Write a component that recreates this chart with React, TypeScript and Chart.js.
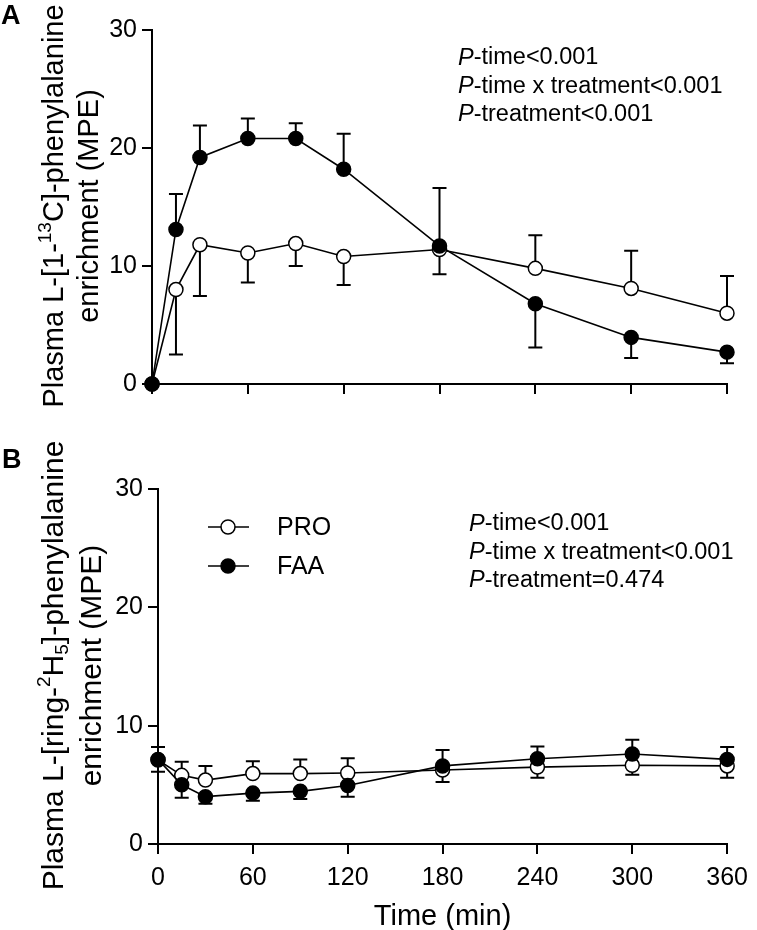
import React, { useEffect, useRef } from 'react';
import { Chart, registerables } from 'chart.js';
Chart.register(...registerables);

// ---------- data ----------
const timeMin = [0, 15, 30, 60, 90, 120, 180, 240, 300, 360];
const xTickValues = [0, 60, 120, 180, 240, 300, 360];
const yTickValues = [0, 10, 20, 30];
const seriesNames = ['PRO', 'FAA'];

// Panel A: L-[1-13C]-phenylalanine (MPE)
const proA = [0, 8.0, 11.8, 11.1, 11.9, 10.8, 11.4, 9.8, 8.1, 6.0];
const proASem = [0, 5.5, 4.35, 2.5, 1.9, 2.4, 2.1, 2.8, 3.2, 3.15];
const proADir = [0, -1, -1, -1, -1, -1, -1, 1, 1, 1];
const faaA = [0, 13.1, 19.2, 20.8, 20.8, 18.2, 11.7, 6.8, 3.95, 2.7];
const faaASem = [0, 3.0, 2.7, 1.7, 1.3, 3.0, 4.9, 3.7, 1.75, 0.95];
const faaADir = [0, 1, 1, 1, 1, 1, 1, -1, -1, -1];

// Panel B: L-[ring-2H5]-phenylalanine (MPE)
const proB = [7.1, 5.8, 5.4, 5.95, 5.95, 6.0, 6.25, 6.5, 6.65, 6.6];
const proBSem = [1.1, 1.15, 1.2, 1.05, 1.2, 1.25, 1.0, 0.9, 0.8, 1.0];
const proBDir = [1, 1, 1, 1, 1, 1, -1, -1, -1, -1];
const faaB = [7.15, 5.0, 4.0, 4.3, 4.45, 4.95, 6.6, 7.2, 7.6, 7.15];
const faaBSem = [1.05, 1.1, 0.6, 0.65, 0.65, 0.95, 1.35, 1.05, 1.2, 1.05];
const faaBDir = [-1, -1, -1, -1, -1, -1, 1, 1, 1, 1];

const pStatsA = ['-time<0.001', '-time x treatment<0.001', '-treatment<0.001'];
const pStatsB = ['-time<0.001', '-time x treatment<0.001', '-treatment=0.474'];

const titleA: [string, string][][] = [
  [['Plasma L-[1-', 'n'], ['13', 'sup'], ['C]-phenylalanine', 'n']],
  [['enrichment (MPE)', 'n']],
];
const titleB: [string, string][][] = [
  [['Plasma L-[ring-', 'n'], ['2', 'sup'], ['H', 'n'], ['5', 'sub'], [']-phenylalanine', 'n']],
  [['enrichment (MPE)', 'n']],
];
const xTitle = 'Time (min)';

const FONT = '"Liberation Sans", Arial, Helvetica, sans-serif';
const W = 757;

type PanelCfg = {
  H: number;
  area: { left: number; top: number; right: number; bottom: number };
  pro: number[]; proSem: number[]; proDir: number[];
  faa: number[]; faaSem: number[]; faaDir: number[];
  showXLabels: boolean;
  yDash: number[];
  title: [string, string][][];
  titleBase: number[];
  titleSize: number;
  titleShift: number;
  pStats: string[];
  pPos: { x: number; y: number };
  letter: string;
  letterPos: { x: number; y: number };
  legend: boolean;
};

function drawSegments(ctx: CanvasRenderingContext2D, segs: [string, string][], size: number) {
  const small = Math.round(size * 0.64);
  const widths = segs.map(([t, k]) => {
    ctx.font = `${k === 'n' ? size : small}px ${FONT}`;
    return ctx.measureText(t).width;
  });
  const total = widths.reduce((a, b) => a + b, 0);
  let x = -total / 2;
  segs.forEach(([t, k], i) => {
    ctx.font = `${k === 'n' ? size : small}px ${FONT}`;
    const dy = k === 'sup' ? -size * 0.42 : k === 'sub' ? size * 0.16 : 0;
    ctx.fillText(t, x, dy);
    x += widths[i];
  });
}

function makePanel(canvas: HTMLCanvasElement, cfg: PanelCfg) {
  const { area } = cfg;
  const mk = (vals: number[], sem: number[], dir: number[], name: string, fill: string, order: number) => ({
    label: name,
    data: timeMin.map((t, i) => ({ x: t, y: vals[i] })),
    sem, dir,
    borderColor: '#000',
    borderWidth: 1.6,
    backgroundColor: fill,
    pointBackgroundColor: fill,
    pointBorderColor: '#000',
    pointBorderWidth: 1.5,
    pointRadius: 7,
    pointHoverRadius: 7,
    clip: false as any,
    order,
    tension: 0,
  });

  const errorBars = {
    id: 'errorBars',
    beforeDatasetsDraw(chart: any) {
      const ctx = chart.ctx;
      const ys = chart.scales.y;
      ctx.save();
      ctx.strokeStyle = '#000';
      ctx.lineWidth = 2;
      chart.data.datasets.forEach((ds: any, di: number) => {
        const meta = chart.getDatasetMeta(di);
        meta.data.forEach((pt: any, i: number) => {
          const d = ds.dir[i];
          if (!d) return;
          const tip = ys.getPixelForValue(ds.data[i].y + d * ds.sem[i]);
          ctx.beginPath();
          ctx.moveTo(pt.x, pt.y);
          ctx.lineTo(pt.x, tip);
          ctx.moveTo(pt.x - 7, tip);
          ctx.lineTo(pt.x + 7, tip);
          ctx.stroke();
        });
      });
      ctx.restore();
    },
  };

  const annotations = {
    id: 'annotations',
    afterDraw(chart: any) {
      const ctx = chart.ctx;
      const ca = chart.chartArea;
      ctx.save();
      ctx.fillStyle = '#000';
      // panel letter
      ctx.font = `bold 27px ${FONT}`;
      ctx.textAlign = 'left';
      ctx.textBaseline = 'middle';
      ctx.fillText(cfg.letter, cfg.letterPos.x, cfg.letterPos.y);
      // p statistics
      cfg.pStats.forEach((s, i) => {
        const y = cfg.pPos.y + i * 28.3;
        ctx.font = `italic 23.5px ${FONT}`;
        ctx.fillText('P', cfg.pPos.x, y);
        const pw = ctx.measureText('P').width;
        ctx.font = `23.5px ${FONT}`;
        ctx.fillText(s, cfg.pPos.x + pw, y);
      });
      // y title
      const cy = (ca.top + ca.bottom) / 2 + cfg.titleShift;
      ctx.textBaseline = 'alphabetic';
      cfg.title.forEach((segs, li) => {
        ctx.save();
        ctx.translate(cfg.titleBase[li], cy);
        ctx.rotate(-Math.PI / 2);
        drawSegments(ctx, segs, cfg.titleSize);
        ctx.restore();
      });
      // x title
      if (cfg.showXLabels) {
        ctx.font = `29px ${FONT}`;
        ctx.textAlign = 'center';
        ctx.textBaseline = 'alphabetic';
        ctx.fillText(xTitle, (ca.left + ca.right) / 2, cfg.H - 5);
      }
      // legend
      if (cfg.legend) {
        const lx = ca.left + 70;
        const ly = ca.top + 38;
        const fills = ['#fff', '#000'];
        seriesNames.forEach((name, i) => {
          const y = ly + i * 39;
          ctx.strokeStyle = '#000';
          ctx.lineWidth = 1.6;
          ctx.beginPath();
          ctx.moveTo(lx - 20, y);
          ctx.lineTo(lx + 21, y);
          ctx.stroke();
          ctx.beginPath();
          ctx.arc(lx, y, 7, 0, Math.PI * 2);
          ctx.fillStyle = fills[i];
          ctx.fill();
          ctx.lineWidth = 1.5;
          ctx.stroke();
          ctx.fillStyle = '#000';
          ctx.font = `25px ${FONT}`;
          ctx.textAlign = 'left';
          ctx.textBaseline = 'middle';
          ctx.fillText(name, lx + 49, y + 1);
        });
      }
      ctx.restore();
    },
  };

  return new Chart(canvas, {
    type: 'line',
    data: {
      datasets: [
        mk(cfg.faa, cfg.faaSem, cfg.faaDir, 'FAA', '#000', 0),
        mk(cfg.pro, cfg.proSem, cfg.proDir, 'PRO', '#fff', 1),
      ] as any,
    },
    options: {
      responsive: false,
      animation: false,
      devicePixelRatio: 1,
      layout: { padding: { left: 0, top: area.top, right: W - area.right, bottom: 0 } },
      plugins: { legend: { display: false }, tooltip: { enabled: false }, title: { display: false } },
      scales: {
        x: {
          type: 'linear',
          min: 0,
          max: 360,
          afterBuildTicks: (s: any) => { s.ticks = xTickValues.map((v) => ({ value: v })); },
          afterFit: (s: any) => { s.height = cfg.H - area.bottom; },
          grid: { drawOnChartArea: false, drawTicks: true, tickLength: 10, color: '#000', lineWidth: 2 },
          border: { display: true, color: '#000', width: 2 },
          ticks: {
            display: cfg.showXLabels,
            color: '#000',
            font: { family: FONT, size: 25 },
            padding: 9,
            maxRotation: 0,
            autoSkip: false,
          },
        },
        y: {
          type: 'linear',
          min: 0,
          max: 30,
          afterBuildTicks: (s: any) => { s.ticks = yTickValues.map((v) => ({ value: v })); },
          afterFit: (s: any) => { s.width = area.left; },
          grid: { drawOnChartArea: false, drawTicks: true, tickLength: 10, color: '#000', lineWidth: 2 },
          border: { display: true, color: '#000', width: 2, dash: cfg.yDash },
          ticks: { color: '#000', font: { family: FONT, size: 25 }, padding: 5 },
        },
      },
    } as any,
    plugins: [errorBars, annotations],
  });
}

export default function App() {
  const refA = useRef<HTMLCanvasElement>(null);
  const refB = useRef<HTMLCanvasElement>(null);

  useEffect(() => {
    const a = makePanel(refA.current!, {
      H: 420,
      area: { left: 152, top: 30, right: 727, bottom: 384 },
      pro: proA, proSem: proASem, proDir: proADir,
      faa: faaA, faaSem: faaASem, faaDir: faaADir,
      showXLabels: false,
      yDash: [],
      title: titleA,
      titleBase: [63, 98],
      titleSize: 29,
      titleShift: -1,
      pStats: pStatsA,
      pPos: { x: 458, y: 58 },
      letter: 'A',
      letterPos: { x: 1, y: 17 },
      legend: false,
    });
    const b = makePanel(refB.current!, {
      H: 510,
      area: { left: 158, top: 69, right: 733, bottom: 424 },
      pro: proB, proSem: proBSem, proDir: proBDir,
      faa: faaB, faaSem: faaBSem, faaDir: faaBDir,
      showXLabels: true,
      yDash: [3, 2],
      title: titleB,
      titleBase: [63, 101],
      titleSize: 30,
      titleShift: -1,
      pStats: pStatsB,
      pPos: { x: 469, y: 104 },
      letter: 'B',
      letterPos: { x: 2, y: 41 },
      legend: true,
    });
    return () => { a.destroy(); b.destroy(); };
  }, []);

  return (
    <div style={{ position: 'absolute', left: 0, top: 0, width: W, height: 930, background: '#fff' }}>
      <canvas ref={refA} width={W} height={420} style={{ position: 'absolute', left: 0, top: 0, width: W, height: 420 }} />
      <canvas ref={refB} width={W} height={510} style={{ position: 'absolute', left: 0, top: 420, width: W, height: 510 }} />
    </div>
  );
}
